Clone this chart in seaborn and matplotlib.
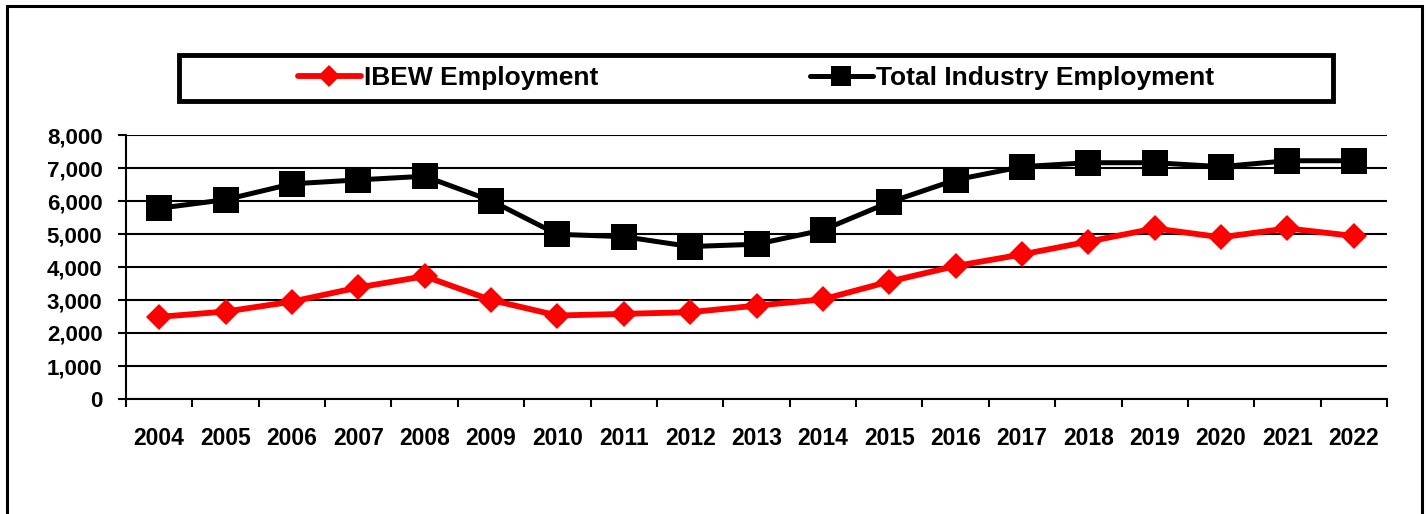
import matplotlib
matplotlib.use("Agg")
import matplotlib.pyplot as plt
import matplotlib.ticker as mticker
from matplotlib.patches import Rectangle
from matplotlib.lines import Line2D
import seaborn as sns
import pandas as pd

years = list(range(2004, 2023))
ibew = [2490, 2650, 2950, 3380, 3720, 3000, 2530, 2580, 2630, 2830, 3020, 3560, 4030,
        4380, 4770, 5170, 4900, 5170, 4940]
total = [5780, 6040, 6520, 6640, 6750, 6010, 4990, 4920, 4620, 4690, 5120, 5960, 6640,
         7040, 7160, 7160, 7040, 7220, 7220]
series_names = ["IBEW Employment", "Total Industry Employment"]
y_ticks = [0, 1000, 2000, 3000, 4000, 5000, 6000, 7000, 8000]

sns.set_theme(style="white")
plt.rcParams['font.family'] = ['Liberation Sans', 'DejaVu Sans']
plt.rcParams['font.weight'] = 'bold'

df_ibew = pd.DataFrame({"Year": years, "Value": ibew})
df_total = pd.DataFrame({"Year": years, "Value": total})

fig = plt.figure(figsize=(14.26, 5.14), dpi=100)
ax = fig.add_axes([126/1426, 1-399/514, (1387-126)/1426, (399-135)/514])

sns.lineplot(data=df_total, x="Year", y="Value", ax=ax, color="black", lw=3.6,
             marker="s", markersize=18.5, markeredgewidth=0, markerfacecolor="black",
             zorder=3)
sns.lineplot(data=df_ibew, x="Year", y="Value", ax=ax, color="#ff0000", lw=4.2,
             marker="D", markersize=13.5, markeredgewidth=0, markerfacecolor="#ff0000",
             zorder=4)

ax.set_xlim(years[0]-0.5, years[-1]+0.5)
ax.set_ylim(0, 8000)
ax.set_xlabel("")
ax.set_ylabel("")

# x ticks: major at boundaries (marks), minor at centers (labels)
ax.set_xticks([y - 0.5 for y in years] + [years[-1] + 0.5])
ax.set_xticklabels([])
ax.set_xticks(years, minor=True)
ax.tick_params(axis="x", which="major", direction="out", length=6, width=1.5,
               color="black", bottom=True)
ax.set_xticklabels([str(y) for y in years], minor=True)
ax.tick_params(axis="x", which="minor", length=0, pad=20, labelsize=16.5,
               labelcolor="black")

ax.set_yticks(y_ticks)
ax.yaxis.set_major_formatter(mticker.FuncFormatter(lambda v, p: f"{int(v):,}"))
ax.tick_params(axis="y", direction="out", length=6, width=1.5, color="black",
               left=True, pad=11, labelsize=16, labelcolor="black")
for lab in ax.get_xticklabels(minor=True) + ax.get_yticklabels():
    lab.set_fontweight("bold")

ax.grid(axis="y", color="black", lw=1.5)
ax.grid(axis="x", visible=False)
ax.set_axisbelow(True)
for s in ["top", "right"]:
    ax.spines[s].set_visible(False)
for s in ["left", "bottom"]:
    ax.spines[s].set_visible(True)
    ax.spines[s].set_color("black")
    ax.spines[s].set_linewidth(1.5)
ax.set_facecolor("white")

# legend
handles = [
    Line2D([], [], color="#ff0000", lw=4.2, marker="D", markersize=11, markeredgewidth=0),
    Line2D([], [], color="black", lw=3.6, marker="s", markersize=14, markeredgewidth=0),
]
leg = fig.legend(handles, series_names, loc="center",
                 bbox_to_anchor=(756/1426, 1-78/514), ncol=2, frameon=False,
                 prop={"family": "Liberation Sans", "weight": "bold", "size": 19},
                 handlelength=2.4, handletextpad=0.12, columnspacing=8.0)
for t in leg.get_texts():
    t.set_color("black")

# legend box
fig.patches.append(Rectangle((179/1426, 1-101/514), (1333-179)/1426, 46/514,
                             transform=fig.transFigure, fill=False,
                             edgecolor="black", lw=3.5, zorder=5))
# outer border
fig.patches.append(Rectangle((7/1426, -0.05), (1422-7)/1426, 1.05-6/514,
                             transform=fig.transFigure, fill=False,
                             edgecolor="black", lw=2.2, zorder=5))

fig.savefig("out.png", dpi=100, facecolor="white")
